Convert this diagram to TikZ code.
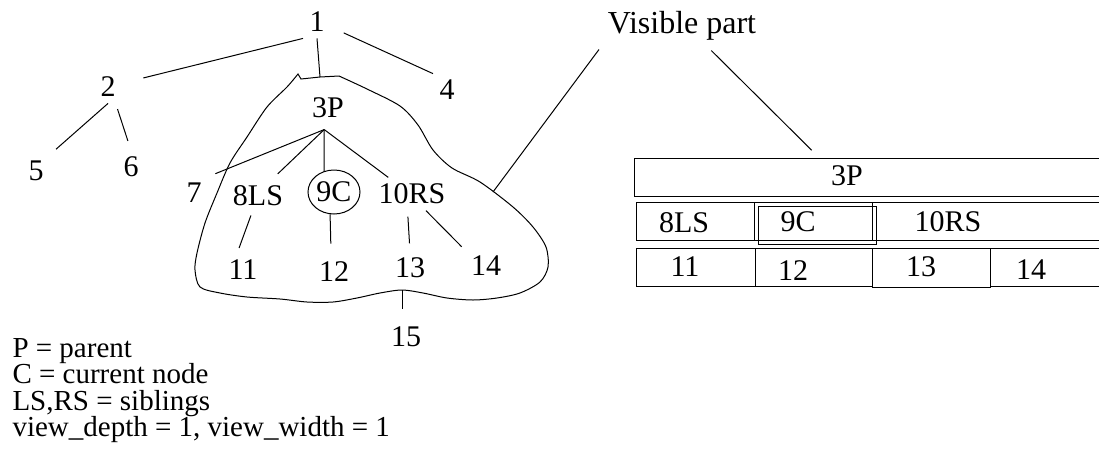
\documentclass[tikz,border=0pt]{standalone}
\usepackage{fontspec}
\setmainfont{Liberation Serif}
\usetikzlibrary{shapes.geometric}
\tikzset{
	lbl/.style={inner sep=3pt},
	cur/.style={ellipse,draw,inner sep=0pt,minimum width=26pt,minimum height=22pt},
	cell/.style={draw,inner sep=0pt,minimum height=19pt,anchor=north west},
	legend/.style={inner sep=0pt,anchor=base west,font=\fontsize{14.5}{16}\selectfont},
}
\begin{document}
\begin{tikzpicture}[x=0.5pt,y=-0.5pt,line width=0.5pt,every node/.style={font=\fontsize{15}{18}\selectfont}]
	\useasboundingbox (0,0) rectangle (1099,461);

	\draw (301,79) -- (320,77) -- plot[smooth] coordinates {(339,76) (367,89) (400,106) (418,125) (433,150) (452,168) (480,182) (513,207) (533,227) (546,247) (548,267) (540,282) (520,293) (497,298) (473,300) (447,298) (423,293) (402,290) (380,293) (357,298) (333,302) (307,302) (280,299) (247,297) (220,293) (200,287) (195,270) (197,253) (205,223) (217,193) (230,163) (247,137) (267,107) (287,87) (298,74)} -- cycle;
	\coordinate (blobtop) at (320,77);
	\coordinate (blobmark) at (493,192);
	\coordinate (blobbot) at (402,290);

	\node[lbl] (n1) at (317,22) {1};
	\node[lbl] (n2) at (108,87) {2};
	\node[lbl] (n4) at (447,90) {4};
	\node[lbl] (n5) at (36,171) {5};
	\node[lbl] (n6) at (131,167) {6};
	\node[lbl,inner ysep=5.5pt] (n3) at (328,108) {3P};
	\node[lbl] (n7) at (194,193) {7};
	\node[lbl] (n8) at (258,196) {8LS};
	\node[cur] (n9) at (334,192) {9C};
	\node[lbl] (n10) at (412,194) {10RS};
	\node[lbl] (n11) at (243,270) {11};
	\node[lbl] (n12) at (334,272) {12};
	\node[lbl] (n13) at (410,268) {13};
	\node[lbl] (n14) at (486,266) {14};
	\node[lbl] (n15) at (406,337) {15};

	\draw[shorten >=11pt] (n1.south west) -- (n2.15);
	\draw (n1.south) -- (blobtop);
	\draw[shorten <=7pt] (n1.-20) -- (n4.north west);
	\draw[shorten >=4pt] (n2.south) -- (n5.north east);
	\draw[shorten <=3pt,shorten >=5pt] (n2.-65) -- (n6.north);
	\draw[shorten >=4pt] (n3.-100) -- (n7.north east);
	\draw[shorten >=4pt] (n3.-100) -- (n8.50);
	\draw (n3.-100) -- (n9.115);
	\draw (n3.-100) -- (n10.145);
	\draw[shorten <=1.5pt,shorten >=3pt] (n8.250) -- (n11.110);
	\draw[shorten >=6pt] (n9.-100) -- (n12.100);
	\draw[shorten <=3pt,shorten >=4pt] (n10.-105) -- (n13.north);
	\draw[shorten >=2pt] (n10.-50) -- (n14.north west);
	\draw[shorten >=5.5pt] (blobbot) -- (blobbot |- n15.north);

	\node[lbl,anchor=base,font=\fontsize{16}{18}\selectfont] (vis) at (682,33) {Visible part};
	\node[cell,minimum width=253pt] (tP) at (634,158) {};
	\node[cell,minimum width=252pt] (r2) at (636,202) {};
	\node[cell,minimum width=59pt] (c9a) at (754,202) {};
	\node[cell,minimum width=59pt] (c9b) at (758,206) {};
	\node[cell,minimum width=59.5pt] (c11) at (636,248) {};
	\node[cell,minimum width=58.5pt] (c12) at (755,248) {};
	\node[cell,minimum width=59pt,minimum height=19.5pt] (c13) at (872,248) {};
	\node[cell,minimum width=75pt] (c14) at (990,248) {};
	\draw[shorten <=2pt] (vis.south west) -- (blobmark);
	\draw[shorten <=3pt,shorten >=5.5pt] (vis.-40) -- (tP.164);

	\node (t3) at (847,176) {3P};
	\node (t8) at (684,223) {8LS};
	\node (t9) at (798,222) {9C};
	\node (t10) at (948,222) {10RS};
	\node (t11) at (685,267) {11};
	\node (t12) at (793,271) {12};
	\node (t13) at (921,267) {13};
	\node (t14) at (1031,270) {14};

	\node[legend] (leg1) at (12,357) {P = parent};
	\node[legend] (leg2) at (12,383.5) {C = current node};
	\node[legend] (leg3) at (12,410) {LS,RS = siblings};
	\node[legend] (leg4) at (12,436.5) {view\_depth = 1, view\_width = 1};
\end{tikzpicture}
\end{document}
